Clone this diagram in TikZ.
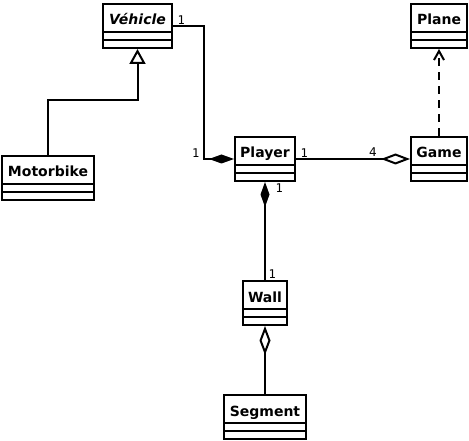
\documentclass[tikz,border=0pt]{standalone}
\usepackage{fontspec}
\setmainfont{DejaVu Sans}
\newfontfamily\multfont{DejaVu Sans Mono}
\usetikzlibrary{arrows.meta,shapes.multipart,positioning}

\begin{document}
\begin{tikzpicture}[x=1pt,y=-1pt,
  umlclass/.style={draw,line width=2pt,rectangle split,rectangle split parts=3,
    inner xsep=3pt,inner ysep=1pt,anchor=north west,font=\fontsize{14}{16}\selectfont\bfseries},
  mult/.style={inner sep=1.5pt,font=\multfont\fontsize{12}{14}\selectfont},
  assoc/.style={line width=2pt},
  compo/.style={assoc,{Diamond[length=25pt,width=9pt]}-},
  aggreg/.style={assoc,{Diamond[open,length=29pt,width=11pt]}-},
  gen/.style={assoc,-{Triangle[open,length=15pt,width=16pt]}},
  dep/.style={assoc,dash pattern=on 8pt off 6pt,-{Straight Barb[length=9pt,width=10pt]}}
]
\useasboundingbox (0,0) rectangle (469,441);
% classes
\newcommand{\ctitle}[1]{\rule[-5pt]{0pt}{24pt}#1\nodepart{second}\rule{0pt}{4pt}\nodepart{third}\rule{0pt}{4pt}}
\node[umlclass,minimum width=69pt] (vehicle) at (102,3) {\ctitle{\itshape Véhicle}};
\node[umlclass,minimum width=56pt] (plane) at (410,3) {\ctitle{Plane}};
\node[umlclass,minimum width=60pt] (player) at (234,136) {\ctitle{Player}};
\node[umlclass,minimum width=56pt] (game) at (410,136) {\ctitle{Game}};
\node[umlclass,minimum width=92pt] (motorbike) at (1,155) {\ctitle{Motorbike}};
\node[umlclass,minimum width=44pt] (wall) at (242,280) {\ctitle{Wall}};
\node[umlclass,minimum width=82pt] (segment) at (223,394) {\ctitle{Segment}};
% relations
\draw[compo] (player.west) -- ++(-30,0) coordinate (bend) |- (vehicle.east);
\draw[gen] (motorbike.north) -- ++(0,-55) -| (vehicle.south);
\draw[aggreg] (game.west) -- node[mult,pos=0.27,anchor=south east] (m4) {\fontspec{DejaVu Sans}\fontsize{12}{14}\selectfont 4} (player.east);
\draw[dep] (game.north) -- (plane.south);
\draw[compo] (player.south) -- (wall.north);
\draw[aggreg] (wall.south) -- (segment.north);
% multiplicities
\node[mult,anchor=south west] (mveh) at ([xshift=3pt]vehicle.east) {1};
\node[mult,anchor=south east] (mbend) at ([xshift=-3pt]bend) {1};
\node[mult,anchor=south west] (mpl) at ([xshift=3pt]player.east) {1};
\node[mult,anchor=north west] (mpls) at ([xshift=9pt]player.south) {1};
\node[mult,anchor=south west] (mwall) at ([xshift=2pt]wall.north) {1};
\end{tikzpicture}
\end{document}
